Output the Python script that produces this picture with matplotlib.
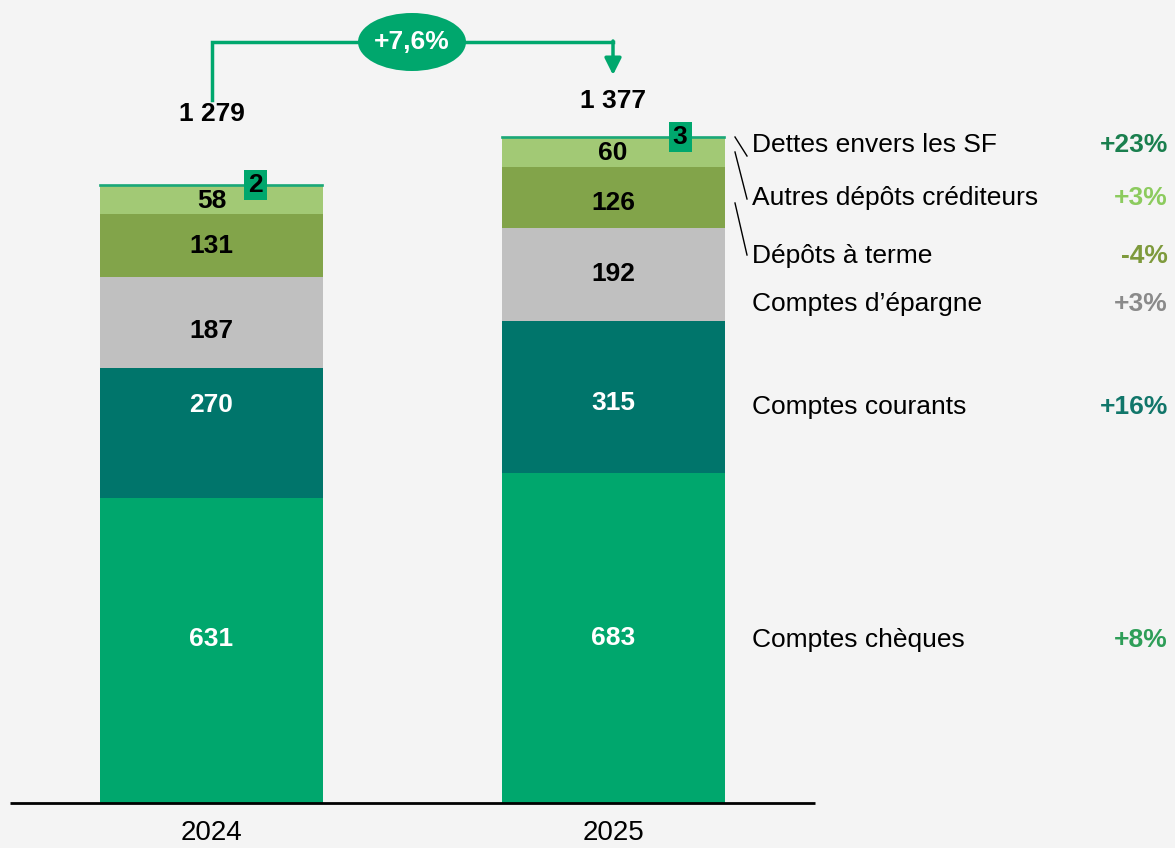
import matplotlib
matplotlib.use("Agg")
import matplotlib.pyplot as plt
from matplotlib.patches import Ellipse, Rectangle
from matplotlib import font_manager

# ---- data ----
years = ["2024", "2025"]
categories = ["Comptes chèques", "Comptes courants", "Comptes d\u2019épargne",
              "Dépôts à terme", "Autres dépôts créditeurs", "Dettes envers les SF"]
cheques = [631, 683]
courants = [270, 315]
epargne = [187, 192]
terme = [131, 126]
autres = [58, 60]
dettes_sf = [2, 3]
totals = [1279, 1377]
growth_total = "+7,6%"
growth = ["+8%", "+16%", "+3%", "-4%", "+3%", "+23%"]

seg_colors = ["#00A76D", "#00756B", "#C0C0C0", "#82A44A", "#A2C975", "#1AA878"]
label_colors = ["white", "white", "black", "black", "black", "black"]
growth_colors = ["#2E9E58", "#11766A", "#8A8A8A", "#7E9A3C", "#8CCB5E", "#1A7F4E"]

# ---- fonts ----
avail = {f.name for f in font_manager.fontManager.ttflist}
narrow = "Liberation Sans Narrow" if "Liberation Sans Narrow" in avail else "Liberation Sans"
plt.rcParams["font.family"] = [narrow, "DejaVu Sans"]
FS = 19

BG = "#F4F4F4"
W, H = 1175, 848
fig = plt.figure(figsize=(W / 100, H / 100), dpi=100, facecolor=BG)
ax = fig.add_axes([0, 0, 1, 1])
ax.set_facecolor(BG)

# pixel geometry -> data limits
x_c = [211.5, 613.0]       # bar centre pixels
x_scale = x_c[1] - x_c[0]  # px per x unit
y_base = 803.0             # baseline pixel
y_scale = 0.483            # px per value unit
ax.set_xlim(-x_c[0] / x_scale, (W - x_c[0]) / x_scale)
ax.set_ylim(-(H - y_base) / y_scale, y_base / y_scale)
ax.axis("off")

def px(xp):
    return (xp - x_c[0]) / x_scale

def py(yp):
    return (y_base - yp) / y_scale

# small vertical nudges (pixels) of in-bar labels, as in the reference layout
label_nudge = [[12, 0], [28, -6], [-8, 1], [0, -5], [-1, 0]]

xs = [0, 1]
bar_w = 223 / x_scale
series = [cheques, courants, epargne, terme, autres, dettes_sf]
bottom = [0, 0]
for i, vals in enumerate(series):
    last = i == len(series) - 1
    ax.bar(xs, vals, bottom=bottom, width=bar_w, color=seg_colors[i],
           edgecolor=seg_colors[i] if last else "none", linewidth=1.2 if last else 0, zorder=2)
    if not last:
        for j in range(2):
            ax.text(xs[j], bottom[j] + vals[j] / 2 + label_nudge[i][j] / y_scale, f"{vals[j]}",
                    ha="center", va="center", fontsize=FS, fontweight="bold",
                    color=label_colors[i], zorder=4)
    bottom = [bottom[k] + vals[k] for k in range(2)]

# small boxed labels for the tiny top segment
box_w = 23 / x_scale
box_h = 30 / y_scale
for j, xb in enumerate([255.5, 680.0]):
    top = sum(s[j] for s in series)
    cx = px(xb)
    yb = top - 15 / y_scale
    ax.add_patch(Rectangle((cx - box_w / 2, yb), box_w, box_h, facecolor="#00A76D",
                           edgecolor="none", zorder=5))
    ax.text(cx, yb + box_h / 2, f"{dettes_sf[j]}", ha="center", va="center",
            fontsize=FS, fontweight="bold", color="black", zorder=6)

# totals
ax.text(0, totals[0] + 147, f"{totals[0]:,}".replace(",", " "), ha="center", va="center",
        fontsize=FS, fontweight="bold", color="black")
ax.text(1, totals[1] + 77, f"{totals[1]:,}".replace(",", " "), ha="center", va="center",
        fontsize=FS, fontweight="bold", color="black")

# baseline
ax.plot([px(10), px(815)], [0, 0], color="black", lw=2, zorder=3, solid_capstyle="butt")

# year labels
for j, yr in enumerate(years):
    ax.text(xs[j], py(833), yr, ha="center", va="center", fontsize=FS + 1, color="black")

# growth bracket
gcol = "#00A76D"
ax.plot([0, 0, 1], [py(100), py(42), py(42)], color=gcol, lw=2.5, solid_joinstyle="miter", zorder=3)
ax.annotate("", xy=(1, py(75)), xytext=(1, py(41)),
            arrowprops=dict(arrowstyle="-|>,head_length=1.0,head_width=0.5", color=gcol,
                            lw=2.5, shrinkA=0, shrinkB=0), zorder=3)
ax.add_patch(Ellipse((px(412), py(42)), 108 / x_scale, 58 / y_scale, facecolor=gcol,
                     edgecolor="none", zorder=4))
ax.text(px(412), py(42), growth_total, ha="center", va="center", fontsize=FS,
        fontweight="bold", color="white", zorder=5)

# right-hand labels
label_y = [640, 407, 304, 256, 198, 145]
for i in range(6):
    ax.text(px(752), py(label_y[i]), categories[i], ha="left", va="center",
            fontsize=FS, color="black")
    ax.text(px(1168), py(label_y[i]), growth[i], ha="right", va="center",
            fontsize=FS, fontweight="bold", color=growth_colors[i])

# leader lines
leaders = [((735, 137), (747, 156)), ((735, 152), (747, 199)), ((735, 203), (747, 255))]
for (x0, y0), (x1, y1) in leaders:
    ax.plot([px(x0), px(x1)], [py(y0), py(y1)], color="black", lw=1)

fig.savefig("out.png", dpi=100, facecolor=BG)
